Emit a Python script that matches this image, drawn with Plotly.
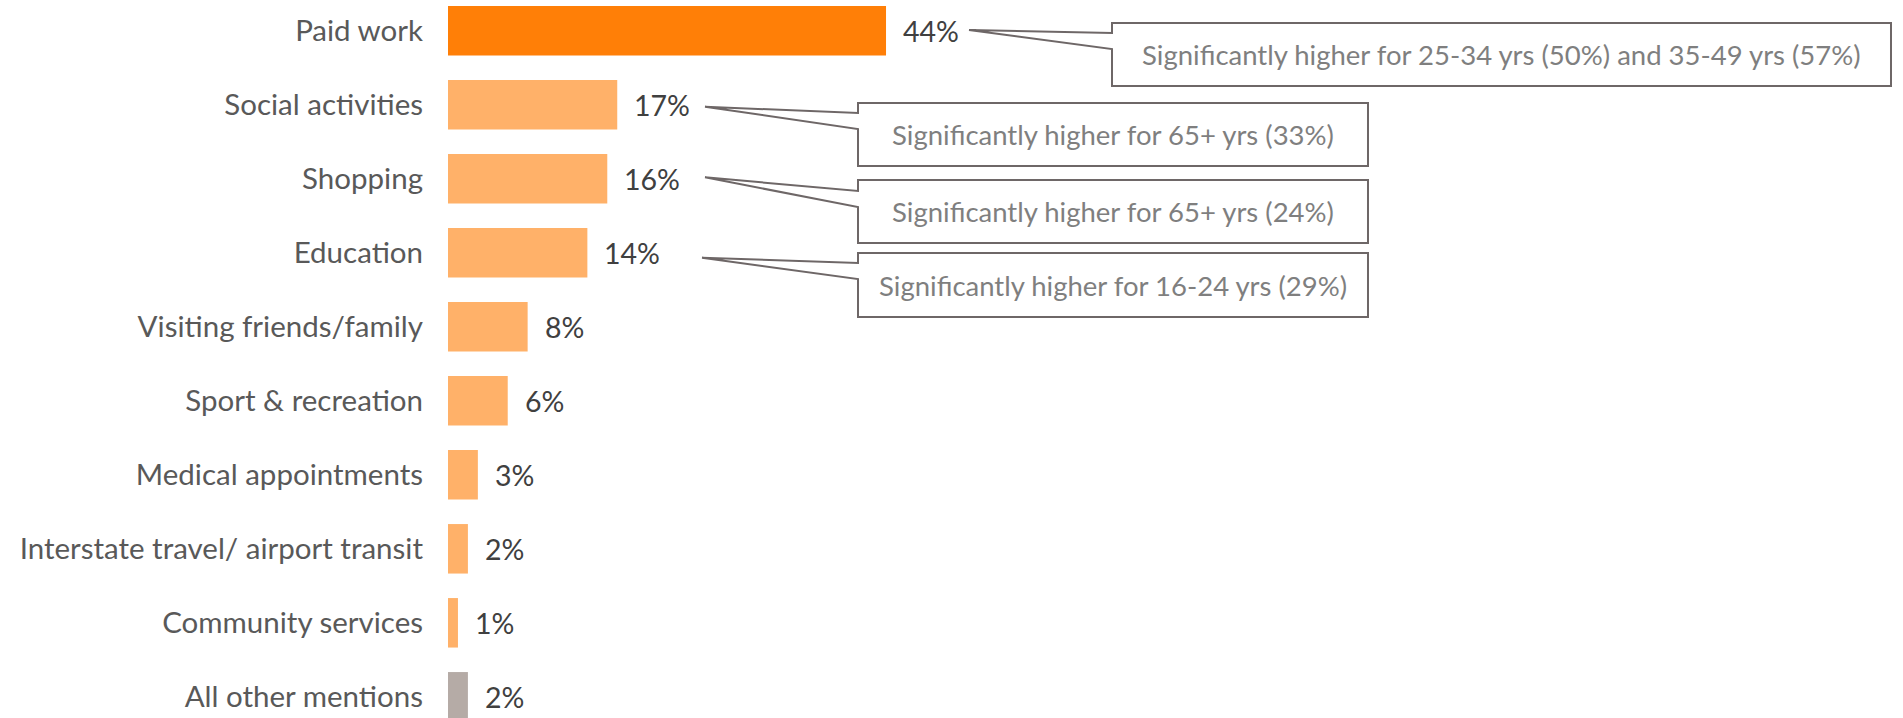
import plotly.graph_objects as go

# Trip purpose shares (%), top to bottom
categories = [
    "Paid work",
    "Social activities",
    "Shopping",
    "Education",
    "Visiting friends/family",
    "Sport & recreation",
    "Medical appointments",
    "Interstate travel/ airport transit",
    "Community services",
    "All other mentions",
]
values = [44, 17, 16, 14, 8, 6, 3, 2, 1, 2]
value_labels = ["44%", "17%", "16%", "14%", "8%", "6%", "3%", "2%", "1%", "2%"]

# Sub-group notes attached to the top four purposes
note_categories = ["Paid work", "Social activities", "Shopping", "Education"]
note_texts = [
    "Significantly higher for 25-34 yrs (50%) and 35-49 yrs (57%)",
    "Significantly higher for 65+ yrs (33%)",
    "Significantly higher for 65+ yrs (24%)",
    "Significantly higher for 16-24 yrs (29%)",
]

# ---- layout constants ----
W, H = 1903, 718
LEFT = 448                      # plot area starts where the bars start
PX_PER_PCT = 9.955
X_MAX = (W - LEFT) / PX_PER_PCT
PITCH = 74.0                    # px per category band
FIRST_CENTER = 30.8             # px from top to the first bar centre
Y_TOP = -FIRST_CENTER / PITCH
Y_BOT = Y_TOP + H / PITCH

FONT = "Lato"
LABEL_GREY = "#595959"
VALUE_GREY = "#404040"
NOTE_GREY = "#7f7f7f"
BOX_LINE = "#6e6767"

colors = []
for c in categories:
    if c == "Paid work":
        colors.append("#ff7f07")
    elif c == "All other mentions":
        colors.append("#b5aba6")
    else:
        colors.append("#ffb169")


def px_x(px):
    """figure pixel x -> paper x (paper spans the plot area)"""
    return (px - LEFT) / (W - LEFT)


def px_y(py):
    return 1 - py / H


def center_px(idx):
    return (idx - Y_TOP) / (Y_BOT - Y_TOP) * H


fig = go.Figure(
    go.Bar(
        x=values,
        y=categories,
        orientation="h",
        marker=dict(color=colors, line=dict(width=0)),
        hoverinfo="skip",
    )
)

# value labels to the right of each bar
for cat, v, lab in zip(categories, values, value_labels):
    fig.add_annotation(
        x=v, y=cat, xref="x", yref="y", text=lab, showarrow=False,
        xanchor="left", yanchor="middle", xshift=15,
        font=dict(family=FONT, size=28.5, color=VALUE_GREY),
    )

# callout geometry (pixels): box left/right/top/bottom, wedge base y's, tip x
callout_boxes = [
    dict(l=1112, r=1891, t=23, b=86, w0=33, w1=49, tip_x=969, tip_dy=-0.8),
    dict(l=858, r=1368, t=103, b=166, w0=113, w1=129, tip_x=705, tip_dy=2.0),
    dict(l=858, r=1368, t=180, b=243, w0=191, w1=207, tip_x=705, tip_dy=-1.5),
    dict(l=858, r=1368, t=253, b=317, w0=263, w1=279, tip_x=702, tip_dy=5.0),
]

for cat, txt, bx in zip(note_categories, note_texts, callout_boxes):
    idx = categories.index(cat)
    ty = center_px(idx) + bx["tip_dy"]
    pts = [
        (bx["l"], bx["t"]), (bx["r"], bx["t"]), (bx["r"], bx["b"]),
        (bx["l"], bx["b"]), (bx["l"], bx["w1"]), (bx["tip_x"], ty),
        (bx["l"], bx["w0"]),
    ]
    path = "M " + " L ".join(f"{px_x(x):.5f},{px_y(y):.5f}" for x, y in pts) + " Z"
    fig.add_shape(
        type="path", path=path, xref="paper", yref="paper",
        line=dict(color=BOX_LINE, width=2), fillcolor="white", layer="above",
    )
    fig.add_annotation(
        x=px_x((bx["l"] + bx["r"]) / 2), y=px_y((bx["t"] + bx["b"]) / 2),
        xref="paper", yref="paper", text=txt, showarrow=False,
        xanchor="center", yanchor="middle",
        font=dict(family=FONT, size=27.5, color=NOTE_GREY),
    )

fig.update_layout(
    width=W, height=H,
    margin=dict(l=LEFT, r=0, t=0, b=0, pad=0),
    paper_bgcolor="white", plot_bgcolor="white",
    bargap=0.331,
    showlegend=False,
    xaxis=dict(range=[0, X_MAX], visible=False, fixedrange=True),
    yaxis=dict(
        type="category",
        categoryorder="array", categoryarray=categories,
        range=[Y_BOT, Y_TOP],
        showgrid=False, zeroline=False, showline=False,
        ticks="", ticklabelstandoff=24,
        tickfont=dict(family=FONT, size=29.5, color=LABEL_GREY),
        fixedrange=True,
    ),
)

fig.write_html("out.html")
